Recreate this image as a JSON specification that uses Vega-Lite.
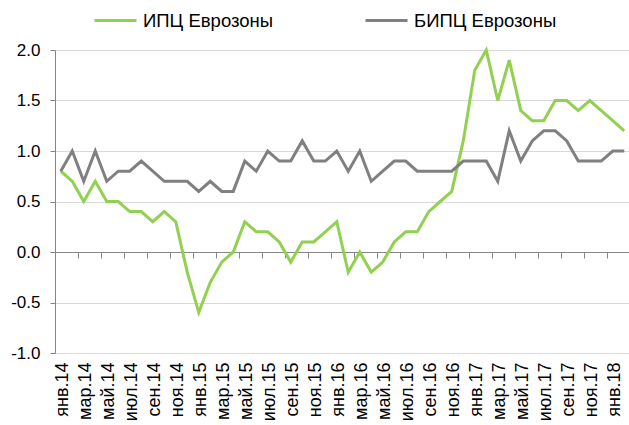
{
  "$schema": "https://vega.github.io/schema/vega-lite/v6.json",
  "width": 575,
  "height": 303,
  "autosize": {"type": "none"},
  "padding": {"left": 55, "top": 50, "right": 0, "bottom": 72},
  "background": "white",
  "config": {
    "view": {"stroke": null},
    "font": "Liberation Sans",
    "axis": {"labelFont": "Liberation Sans", "labelColor": "#000000"},
    "legend": {"labelFont": "Liberation Sans", "labelColor": "#000000"}
  },
  "data": {
    "values": [
      {"m": "янв.14", "s": "ИПЦ Еврозоны", "v": 0.8},
      {"m": "фев.14", "s": "ИПЦ Еврозоны", "v": 0.7},
      {"m": "мар.14", "s": "ИПЦ Еврозоны", "v": 0.5},
      {"m": "апр.14", "s": "ИПЦ Еврозоны", "v": 0.7},
      {"m": "май.14", "s": "ИПЦ Еврозоны", "v": 0.5},
      {"m": "июн.14", "s": "ИПЦ Еврозоны", "v": 0.5},
      {"m": "июл.14", "s": "ИПЦ Еврозоны", "v": 0.4},
      {"m": "авг.14", "s": "ИПЦ Еврозоны", "v": 0.4},
      {"m": "сен.14", "s": "ИПЦ Еврозоны", "v": 0.3},
      {"m": "окт.14", "s": "ИПЦ Еврозоны", "v": 0.4},
      {"m": "ноя.14", "s": "ИПЦ Еврозоны", "v": 0.3},
      {"m": "дек.14", "s": "ИПЦ Еврозоны", "v": -0.2},
      {"m": "янв.15", "s": "ИПЦ Еврозоны", "v": -0.6},
      {"m": "фев.15", "s": "ИПЦ Еврозоны", "v": -0.3},
      {"m": "мар.15", "s": "ИПЦ Еврозоны", "v": -0.1},
      {"m": "апр.15", "s": "ИПЦ Еврозоны", "v": 0.0},
      {"m": "май.15", "s": "ИПЦ Еврозоны", "v": 0.3},
      {"m": "июн.15", "s": "ИПЦ Еврозоны", "v": 0.2},
      {"m": "июл.15", "s": "ИПЦ Еврозоны", "v": 0.2},
      {"m": "авг.15", "s": "ИПЦ Еврозоны", "v": 0.1},
      {"m": "сен.15", "s": "ИПЦ Еврозоны", "v": -0.1},
      {"m": "окт.15", "s": "ИПЦ Еврозоны", "v": 0.1},
      {"m": "ноя.15", "s": "ИПЦ Еврозоны", "v": 0.1},
      {"m": "дек.15", "s": "ИПЦ Еврозоны", "v": 0.2},
      {"m": "янв.16", "s": "ИПЦ Еврозоны", "v": 0.3},
      {"m": "фев.16", "s": "ИПЦ Еврозоны", "v": -0.2},
      {"m": "мар.16", "s": "ИПЦ Еврозоны", "v": 0.0},
      {"m": "апр.16", "s": "ИПЦ Еврозоны", "v": -0.2},
      {"m": "май.16", "s": "ИПЦ Еврозоны", "v": -0.1},
      {"m": "июн.16", "s": "ИПЦ Еврозоны", "v": 0.1},
      {"m": "июл.16", "s": "ИПЦ Еврозоны", "v": 0.2},
      {"m": "авг.16", "s": "ИПЦ Еврозоны", "v": 0.2},
      {"m": "сен.16", "s": "ИПЦ Еврозоны", "v": 0.4},
      {"m": "окт.16", "s": "ИПЦ Еврозоны", "v": 0.5},
      {"m": "ноя.16", "s": "ИПЦ Еврозоны", "v": 0.6},
      {"m": "дек.16", "s": "ИПЦ Еврозоны", "v": 1.1},
      {"m": "янв.17", "s": "ИПЦ Еврозоны", "v": 1.8},
      {"m": "фев.17", "s": "ИПЦ Еврозоны", "v": 2.0},
      {"m": "мар.17", "s": "ИПЦ Еврозоны", "v": 1.5},
      {"m": "апр.17", "s": "ИПЦ Еврозоны", "v": 1.9},
      {"m": "май.17", "s": "ИПЦ Еврозоны", "v": 1.4},
      {"m": "июн.17", "s": "ИПЦ Еврозоны", "v": 1.3},
      {"m": "июл.17", "s": "ИПЦ Еврозоны", "v": 1.3},
      {"m": "авг.17", "s": "ИПЦ Еврозоны", "v": 1.5},
      {"m": "сен.17", "s": "ИПЦ Еврозоны", "v": 1.5},
      {"m": "окт.17", "s": "ИПЦ Еврозоны", "v": 1.4},
      {"m": "ноя.17", "s": "ИПЦ Еврозоны", "v": 1.5},
      {"m": "дек.17", "s": "ИПЦ Еврозоны", "v": 1.4},
      {"m": "янв.18", "s": "ИПЦ Еврозоны", "v": 1.3},
      {"m": "фев.18", "s": "ИПЦ Еврозоны", "v": 1.2},
      {"m": "янв.14", "s": "БИПЦ Еврозоны", "v": 0.8},
      {"m": "фев.14", "s": "БИПЦ Еврозоны", "v": 1.0},
      {"m": "мар.14", "s": "БИПЦ Еврозоны", "v": 0.7},
      {"m": "апр.14", "s": "БИПЦ Еврозоны", "v": 1.0},
      {"m": "май.14", "s": "БИПЦ Еврозоны", "v": 0.7},
      {"m": "июн.14", "s": "БИПЦ Еврозоны", "v": 0.8},
      {"m": "июл.14", "s": "БИПЦ Еврозоны", "v": 0.8},
      {"m": "авг.14", "s": "БИПЦ Еврозоны", "v": 0.9},
      {"m": "сен.14", "s": "БИПЦ Еврозоны", "v": 0.8},
      {"m": "окт.14", "s": "БИПЦ Еврозоны", "v": 0.7},
      {"m": "ноя.14", "s": "БИПЦ Еврозоны", "v": 0.7},
      {"m": "дек.14", "s": "БИПЦ Еврозоны", "v": 0.7},
      {"m": "янв.15", "s": "БИПЦ Еврозоны", "v": 0.6},
      {"m": "фев.15", "s": "БИПЦ Еврозоны", "v": 0.7},
      {"m": "мар.15", "s": "БИПЦ Еврозоны", "v": 0.6},
      {"m": "апр.15", "s": "БИПЦ Еврозоны", "v": 0.6},
      {"m": "май.15", "s": "БИПЦ Еврозоны", "v": 0.9},
      {"m": "июн.15", "s": "БИПЦ Еврозоны", "v": 0.8},
      {"m": "июл.15", "s": "БИПЦ Еврозоны", "v": 1.0},
      {"m": "авг.15", "s": "БИПЦ Еврозоны", "v": 0.9},
      {"m": "сен.15", "s": "БИПЦ Еврозоны", "v": 0.9},
      {"m": "окт.15", "s": "БИПЦ Еврозоны", "v": 1.1},
      {"m": "ноя.15", "s": "БИПЦ Еврозоны", "v": 0.9},
      {"m": "дек.15", "s": "БИПЦ Еврозоны", "v": 0.9},
      {"m": "янв.16", "s": "БИПЦ Еврозоны", "v": 1.0},
      {"m": "фев.16", "s": "БИПЦ Еврозоны", "v": 0.8},
      {"m": "мар.16", "s": "БИПЦ Еврозоны", "v": 1.0},
      {"m": "апр.16", "s": "БИПЦ Еврозоны", "v": 0.7},
      {"m": "май.16", "s": "БИПЦ Еврозоны", "v": 0.8},
      {"m": "июн.16", "s": "БИПЦ Еврозоны", "v": 0.9},
      {"m": "июл.16", "s": "БИПЦ Еврозоны", "v": 0.9},
      {"m": "авг.16", "s": "БИПЦ Еврозоны", "v": 0.8},
      {"m": "сен.16", "s": "БИПЦ Еврозоны", "v": 0.8},
      {"m": "окт.16", "s": "БИПЦ Еврозоны", "v": 0.8},
      {"m": "ноя.16", "s": "БИПЦ Еврозоны", "v": 0.8},
      {"m": "дек.16", "s": "БИПЦ Еврозоны", "v": 0.9},
      {"m": "янв.17", "s": "БИПЦ Еврозоны", "v": 0.9},
      {"m": "фев.17", "s": "БИПЦ Еврозоны", "v": 0.9},
      {"m": "мар.17", "s": "БИПЦ Еврозоны", "v": 0.7},
      {"m": "апр.17", "s": "БИПЦ Еврозоны", "v": 1.2},
      {"m": "май.17", "s": "БИПЦ Еврозоны", "v": 0.9},
      {"m": "июн.17", "s": "БИПЦ Еврозоны", "v": 1.1},
      {"m": "июл.17", "s": "БИПЦ Еврозоны", "v": 1.2},
      {"m": "авг.17", "s": "БИПЦ Еврозоны", "v": 1.2},
      {"m": "сен.17", "s": "БИПЦ Еврозоны", "v": 1.1},
      {"m": "окт.17", "s": "БИПЦ Еврозоны", "v": 0.9},
      {"m": "ноя.17", "s": "БИПЦ Еврозоны", "v": 0.9},
      {"m": "дек.17", "s": "БИПЦ Еврозоны", "v": 0.9},
      {"m": "янв.18", "s": "БИПЦ Еврозоны", "v": 1.0},
      {"m": "фев.18", "s": "БИПЦ Еврозоны", "v": 1.0}
    ]
  },
  "mark": {"type": "line", "strokeWidth": 3, "strokeJoin": "miter"},
  "encoding": {
    "x": {
      "field": "m",
      "type": "nominal",
      "sort": null,
      "scale": {"type": "point", "padding": 0.5},
      "axis": {
        "title": null,
        "values": ["янв.14", "мар.14", "май.14", "июл.14", "сен.14", "ноя.14", "янв.15", "мар.15", "май.15", "июл.15", "сен.15", "ноя.15", "янв.16", "мар.16", "май.16", "июл.16", "сен.16", "ноя.16", "янв.17", "мар.17", "май.17", "июл.17", "сен.17", "ноя.17", "янв.18"],
        "offset": -101,
        "domainColor": "#868686",
        "domainWidth": 1,
        "tickColor": "#868686",
        "tickSize": 6,
        "tickOffset": -5.75,
        "labelOffset": 7.5,
        "labelAngle": -90,
        "labelPadding": 104,
        "labelFontSize": 18,
        "labelOverlap": false,
        "grid": false
      }
    },
    "y": {
      "field": "v",
      "type": "quantitative",
      "scale": {"domain": [-1, 2], "nice": false, "zero": false},
      "axis": {
        "title": null,
        "values": [-1, -0.5, 0, 0.5, 1, 1.5, 2],
        "labelExpr": "replace(format(datum.value, '.1f'), '\u2212', '-')",
        "domainColor": "#868686",
        "tickColor": "#868686",
        "tickSize": 5,
        "labelPadding": 10,
        "labelFontSize": 17,
        "grid": true,
        "gridColor": "#d9d9d9",
        "gridWidth": 1
      }
    },
    "color": {
      "field": "s",
      "type": "nominal",
      "scale": {"domain": ["ИПЦ Еврозоны", "БИПЦ Еврозоны"], "range": ["#92d050", "#808080"]},
      "legend": {
        "title": null,
        "orient": "none",
        "direction": "horizontal",
        "legendX": 38,
        "legendY": -52,
        "symbolType": "stroke",
        "symbolSize": 1764,
        "symbolStrokeWidth": 3,
        "labelFontSize": 18.5,
        "labelOffset": 5,
        "columnPadding": 85,
        "padding": 0
      }
    }
  }
}
